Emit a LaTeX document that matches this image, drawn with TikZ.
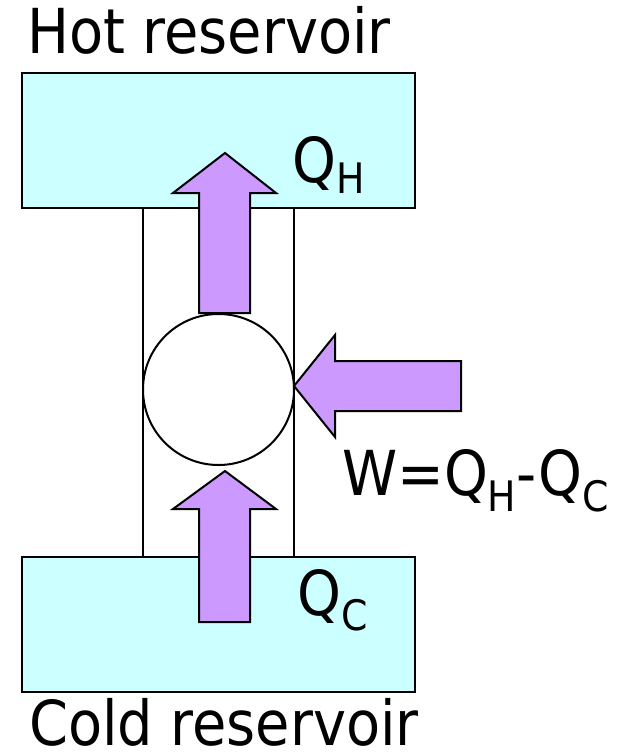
\documentclass[tikz,border=0pt]{standalone}
\usepackage{fontspec}
\setmainfont{DejaVu Sans Condensed}
\definecolor{resfill}{HTML}{CCFFFF}
\definecolor{flowfill}{HTML}{CC99FF}
\newcommand{\bigtxt}{\fontsize{62}{62}\selectfont}
\newcommand{\subtxt}[2]{\raisebox{-#1}{\fontsize{42}{42}\selectfont #2}}
\begin{document}
\begin{tikzpicture}[x=1pt,y=-1pt,
  reservoir/.style={draw=black,fill=resfill,line width=2.2pt},
  pipe/.style={draw=black,line width=2pt},
  flow/.style={draw=black,fill=flowfill,line width=2pt,line join=miter},
  label/.style={inner sep=0pt,anchor=base west,font=\bigtxt}]
\useasboundingbox (0,0) rectangle (627,753);
% pipe lines
\draw[pipe] (143,208) -- (143,557);
\draw[pipe] (294,208) -- (294,557);
% reservoirs
\draw[reservoir] (22,73) rectangle (415,208);
\draw[reservoir] (22,557) rectangle (415,692);
% engine
\draw[pipe,fill=white] (218.5,389.5) circle (75.5);
% heat flow arrows
\draw[flow] (199,313) -- (199,193) -- (173,193) -- (225,153) -- (276,193) -- (250,193) -- (250,313) -- cycle;
\draw[flow] (199,622) -- (199,509) -- (173,509) -- (225,471) -- (276,509) -- (250,509) -- (250,622) -- cycle;
\draw[flow] (461,361) -- (335,361) -- (335,335) -- (294,386) -- (335,437) -- (335,411) -- (461,411) -- cycle;
% labels
\node[label] (hot) at (27,53) {Hot reservoir};
\node[label] (cold) at (29,745) {Cold reservoir};
\node[label] (qh) at (292,182) {Q\subtxt{11pt}{H}};
\node[label] (qc) at (297,615) {Q\subtxt{15pt}{C}};
\node[label] (w) at (342,495) {W=Q\subtxt{16pt}{H}-Q\subtxt{16pt}{C}};
\end{tikzpicture}
\end{document}
